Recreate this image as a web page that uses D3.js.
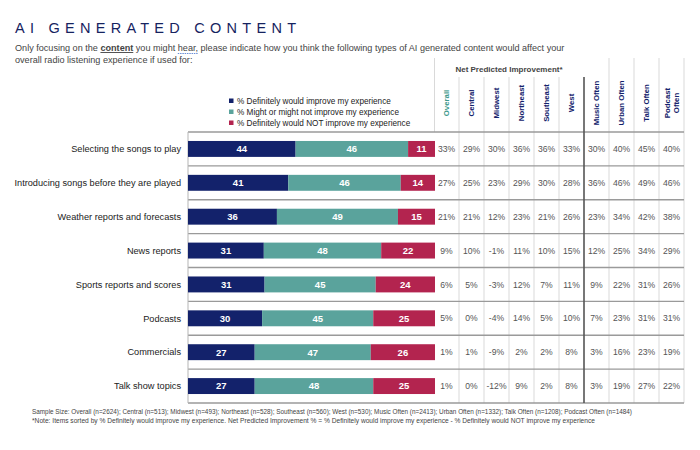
<!DOCTYPE html>
<html>
<head>
<meta charset="utf-8">
<script src="https://cdn.jsdelivr.net/npm/d3@7"></script>
<style>
  html, body { margin: 0; padding: 0; background: #fff; }
  svg { display: block; font-family: Arial, "Liberation Sans", sans-serif; }
</style>
</head>
<body>
<svg id="chart" width="700" height="450"></svg>
<script>
// ---------- DATA ----------
const categories = [
  "Selecting the songs to play",
  "Introducing songs before they are played",
  "Weather reports and forecasts",
  "News reports",
  "Sports reports and scores",
  "Podcasts",
  "Commercials",
  "Talk show topics"
];
const seriesNames = [
  "% Definitely would improve my experience",
  "% Might or might not improve my experience",
  "% Definitely would NOT improve my experience"
];
const definitelyImprove = [44, 41, 36, 31, 31, 30, 27, 27];
const mightImprove      = [46, 46, 49, 48, 45, 45, 47, 48];
const definitelyNot     = [11, 14, 15, 22, 24, 25, 26, 25];

const tableColumns = ["Overall", "Central", "Midwest", "Northeast", "Southeast", "West",
                      "Music Often", "Urban Often", "Talk Often", "Podcast Often"];
const netSelecting    = [33, 29, 30, 36, 36, 33, 30, 40, 45, 40];
const netIntroducing  = [27, 25, 23, 29, 30, 28, 36, 46, 49, 46];
const netWeather      = [21, 21, 12, 23, 21, 26, 23, 34, 42, 38];
const netNews         = [9, 10, -1, 11, 10, 15, 12, 25, 34, 29];
const netSports       = [6, 5, -3, 12, 7, 11, 9, 22, 31, 26];
const netPodcasts     = [5, 0, -4, 14, 5, 10, 7, 23, 31, 31];
const netCommercials  = [1, 1, -9, 2, 2, 8, 3, 16, 23, 19];
const netTalk         = [1, 0, -12, 9, 2, 8, 3, 19, 27, 22];
const netRows = [netSelecting, netIntroducing, netWeather, netNews, netSports, netPodcasts, netCommercials, netTalk];

const titleText = "AI GENERATED CONTENT";
const tableHeader = "Net Predicted Improvement*";
const footerLine1 = "Sample Size: Overall (n=2624); Central (n=513); Midwest (n=493); Northeast (n=528); Southeast (n=560); West (n=530); Music Often (n=2413); Urban Often (n=1332); Talk Often (n=1208); Podcast Often (n=1484)";
const footerLine2 = "*Note: Items sorted by % Definitely would improve my experience. Net Predicted Improvement % = % Definitely would improve my experience - % Definitely would NOT improve my experience";

// ---------- STYLE ----------
const colors = ["#13226b", "#5aa39c", "#b3244f"];
const navy = "#13226b";

const svg = d3.select("#chart");

// Title
svg.append("text")
  .attr("x", 15).attr("y", 33)
  .attr("font-size", 14.5)
  .attr("fill", "#16235f")
  .attr("textLength", 281)
  .attr("lengthAdjust", "spacing")
  .text(titleText);

// Subtitle
const subSize = 9.1;
const sub = svg.append("text").attr("x", 15).attr("y", 51)
  .attr("font-size", subSize).attr("fill", "#444");
sub.append("tspan").text("Only focusing on the ");
sub.append("tspan").attr("font-weight", "bold").attr("text-decoration", "underline").text("content");
sub.append("tspan").text(" you might ");
sub.append("tspan").text("hear,");
sub.append("tspan").text(" please indicate how you think the following types of AI generated content would affect your");
svg.append("text").attr("x", 15).attr("y", 63)
  .attr("font-size", subSize).attr("fill", "#444")
  .text("overall radio listening experience if used for:");
// blue squiggle under "hear,"
{
  const t = sub.node();
  const full = "Only focusing on the content you might ";
  const s = t.getStartPositionOfChar(full.length);
  const e = t.getEndPositionOfChar(full.length + 4);
  svg.append("line").attr("x1", s.x).attr("x2", e.x).attr("y1", 53.5).attr("y2", 53.5)
    .attr("stroke", "#6a8fd8").attr("stroke-width", 1).attr("stroke-dasharray", "1.5,0.8");
}

// ---------- SCALES ----------
const topY = 132, bottomY = 403;
const barLeft = 188, barRight = 435;
const y = d3.scaleBand().domain(categories).range([topY, bottomY]).paddingInner(0.53).paddingOuter(0.265);
const x = d3.scaleLinear().domain([0, 1]).range([barLeft, barRight]);
const col = d3.scaleBand().domain(tableColumns).range([434, 684]);
const step = y.step();

const rows = categories.map((c, i) => ({
  cat: c, s0: definitelyImprove[i], s1: mightImprove[i], s2: definitelyNot[i]
}));
const stack = d3.stack().keys(["s0", "s1", "s2"]).offset(d3.stackOffsetExpand);
const stacked = stack(rows);

// Table vertical grid lines (light)
const vlines = svg.append("g");
tableColumns.forEach((c, i) => {
  if (i === 0 || i === 6) return;
  const xx = col(c);
  vlines.append("line").attr("x1", xx).attr("x2", xx)
    .attr("y1", i < 6 ? 77 : 58).attr("y2", bottomY)
    .attr("stroke", "#d9d9d9").attr("stroke-width", 1);
});
vlines.append("line").attr("x1", col.range()[1]).attr("x2", col.range()[1])
  .attr("y1", 58).attr("y2", bottomY).attr("stroke", "#d9d9d9");
vlines.append("line").attr("x1", 434.5).attr("x2", 434.5)
  .attr("y1", 58).attr("y2", topY).attr("stroke", "#d9d9d9");

// Row separator lines
for (let i = 0; i <= categories.length; i++) {
  const yy = topY + i * step;
  svg.append("line").attr("x1", barLeft).attr("x2", 684).attr("y1", yy).attr("y2", yy)
    .attr("stroke", "#9a9a9a").attr("stroke-width", 1.3);
}
svg.append("line").attr("x1", barLeft).attr("x2", barLeft).attr("y1", topY).attr("y2", bottomY)
  .attr("stroke", "#b5b5b5");

// Thick divider
svg.append("line").attr("x1", col("Music Often")).attr("x2", col("Music Often"))
  .attr("y1", 77).attr("y2", bottomY).attr("stroke", "#555").attr("stroke-width", 1.6);

// Bars
const gBars = svg.append("g");
stacked.forEach((layer, k) => {
  const g = gBars.append("g").attr("fill", colors[k]);
  g.selectAll("rect").data(layer).join("rect")
    .attr("x", d => x(d[0]))
    .attr("y", d => y(d.data.cat))
    .attr("width", d => x(d[1]) - x(d[0]))
    .attr("height", y.bandwidth());
  gBars.append("g").selectAll("text").data(layer).join("text")
    .attr("x", d => (x(d[0]) + x(d[1])) / 2)
    .attr("y", d => y(d.data.cat) + y.bandwidth() / 2)
    .attr("dy", "0.36em")
    .attr("text-anchor", "middle")
    .attr("font-size", 9.5).attr("font-weight", "bold").attr("fill", "#fff")
    .text(d => d.data[layer.key]);
});

// Category labels
svg.append("g").selectAll("text").data(categories).join("text")
  .attr("x", 181)
  .attr("y", d => y(d) + y.bandwidth() / 2)
  .attr("dy", "0.36em")
  .attr("text-anchor", "end")
  .attr("font-size", 9.2).attr("fill", "#222")
  .text(d => d);

// Legend
const legend = svg.append("g");
seriesNames.forEach((n, i) => {
  const ly = 101 + i * 11;
  legend.append("rect").attr("x", 229).attr("y", ly - 2.5).attr("width", 4.5).attr("height", 4.5).attr("fill", colors[i]);
  legend.append("text").attr("x", 237).attr("y", ly).attr("dy", "0.35em")
    .attr("font-size", 8.2).attr("fill", "#222").text(n);
});

// Table header
svg.append("text").attr("x", (col("Overall") + col("Music Often")) / 2).attr("y", 69)
  .attr("dy", "0.35em").attr("text-anchor", "middle")
  .attr("font-size", 8).attr("font-weight", "bold").attr("fill", "#444")
  .text(tableHeader);

tableColumns.forEach((c, i) => {
  const cx = col(c) + col.bandwidth() / 2;
  const t = svg.append("text")
    .attr("transform", `translate(${cx},103) rotate(-90)`)
    .attr("text-anchor", "middle")
    .attr("font-size", 7.8).attr("font-weight", "bold")
    .attr("fill", i === 0 ? "#3d9a8c" : navy);
  if (c === "Podcast Often") {
    t.append("tspan").attr("x", 0).attr("dy", "-0.2em").text("Podcast");
    t.append("tspan").attr("x", 0).attr("dy", "1.1em").text("Often");
  } else {
    t.attr("dy", "0.35em").text(c);
  }
});

// Table values
const gTable = svg.append("g");
netRows.forEach((vals, r) => {
  gTable.append("g").selectAll("text").data(vals).join("text")
    .attr("x", (d, i) => col(tableColumns[i]) + col.bandwidth() / 2)
    .attr("y", y(categories[r]) + y.bandwidth() / 2)
    .attr("dy", "0.36em")
    .attr("text-anchor", "middle")
    .attr("font-size", 8.6).attr("fill", "#555")
    .text(d => d + "%");
});

// Footer
svg.append("text").attr("x", 32).attr("y", 414).attr("font-size", 6.4).attr("fill", "#444")
  .attr("textLength", 600).attr("lengthAdjust", "spacingAndGlyphs").text(footerLine1);
svg.append("text").attr("x", 32).attr("y", 423).attr("font-size", 6.4).attr("fill", "#444")
  .attr("textLength", 563).attr("lengthAdjust", "spacingAndGlyphs").text(footerLine2);
</script>
</body>
</html>
